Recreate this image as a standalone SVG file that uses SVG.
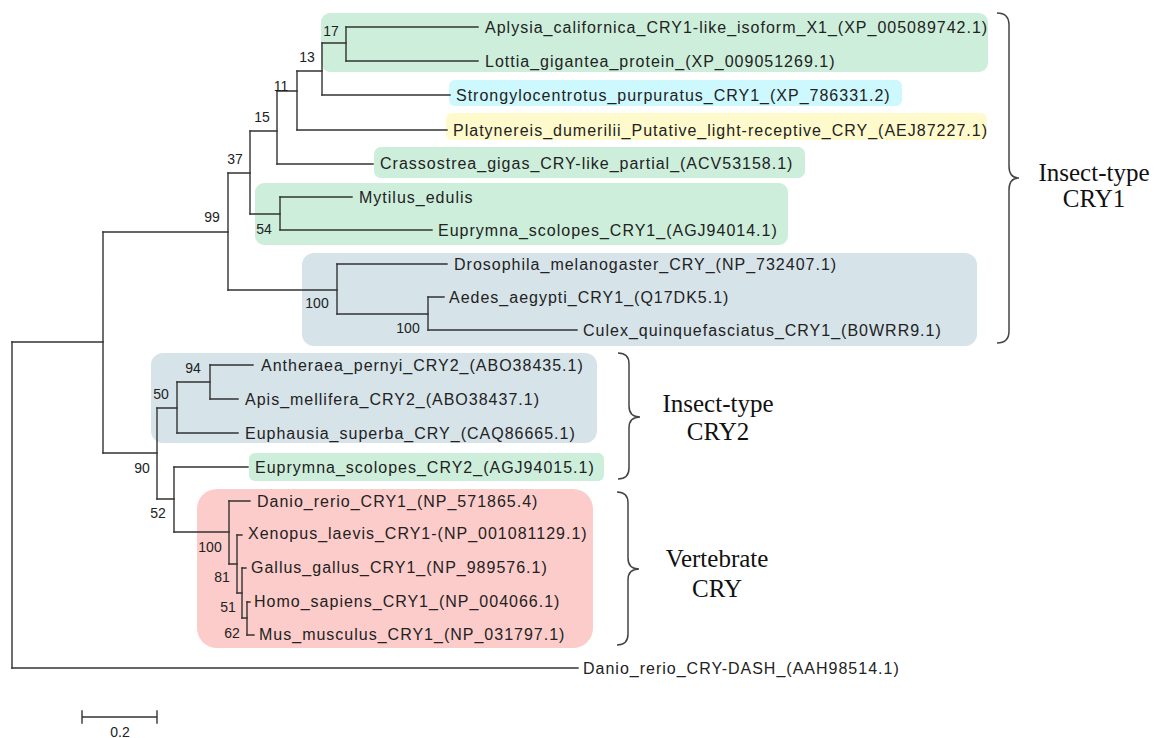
<svg xmlns="http://www.w3.org/2000/svg" width="1167" height="738" viewBox="0 0 1167 738">
<style>
.leaf{font-family:"Liberation Sans",Arial,sans-serif;font-size:16px;letter-spacing:1px;fill:#222}
.bs{font-family:"Liberation Sans",Arial,sans-serif;font-size:14px;fill:#222;text-anchor:middle}
.grp{font-family:"Liberation Serif","Times New Roman",serif;font-size:25px;fill:#111;text-anchor:middle}
.br{fill:none;stroke:#444;stroke-width:1.5}
.tree{fill:none;stroke:#333;stroke-width:1.4;stroke-linecap:square}
.g{fill:#cdeedb}
.b{fill:#d6e3e9}
</style>
<rect width="1167" height="738" fill="#fff"/>
<g id="boxes">
<rect class="g" x="321" y="13" width="667" height="59" rx="9"/>
<rect x="449" y="80" width="453" height="26" rx="6" fill="#cdf8fd"/>
<rect x="446" y="113" width="541" height="27" rx="6" fill="#fffacc"/>
<rect class="g" x="374" y="147" width="431" height="31" rx="7"/>
<rect class="g" x="255" y="183" width="533" height="62" rx="9"/>
<rect class="b" x="302" y="253" width="675" height="93" rx="12"/>
<rect class="b" x="151" y="353" width="446" height="90" rx="12"/>
<rect class="g" x="249" y="453" width="355" height="28" rx="6"/>
<rect x="197" y="489" width="396" height="159" rx="20" fill="#fcccca"/>
</g>
<g id="connectors" class="tree">
<path d="M12,342V668M103,232V453M228,173V290M250,131V214M277,91V164M297,71V130M322,43V95M346,27V61M280,197V230M337,264V314M428,297V330M157,408V499M177,382V433M210,365V399M174,467V532M229,501V564M237,535V593M242,568V618M247,602V635"/>
<path d="M12,668H578M12,342H103M103,232H228M103,453H157M228,173H250M228,290H337M250,131H277M250,214H280M277,91H297M277,164H373M297,71H322M297,130H447M322,43H346M322,95H450M346,27H478M346,61H478M280,197H352M280,230H432M337,264H447M337,314H428M428,297H444M428,330H577"/>
<path d="M157,408H177M157,499H174M177,382H210M177,433H238M210,365H253M210,399H238M174,467H248M174,532H229M229,501H250M229,564H237M237,535H242M237,593H242M242,568H246M242,618H247M247,602H250M247,635H254"/>
</g>
<g id="leaf-aplysia"><text class="leaf" x="485" y="33">Aplysia_californica_CRY1-like_isoform_X1_(XP_005089742.1)</text></g>
<g id="leaf-lottia"><text class="leaf" x="485" y="67">Lottia_gigantea_protein_(XP_009051269.1)</text></g>
<g id="leaf-strongylocentrotus"><text class="leaf" x="456" y="101">Strongylocentrotus_purpuratus_CRY1_(XP_786331.2)</text></g>
<g id="leaf-platynereis"><text class="leaf" x="453" y="136">Platynereis_dumerilii_Putative_light-receptive_CRY_(AEJ87227.1)</text></g>
<g id="leaf-crassostrea"><text class="leaf" x="380" y="169">Crassostrea_gigas_CRY-like_partial_(ACV53158.1)</text></g>
<g id="leaf-mytilus"><text class="leaf" x="359" y="203">Mytilus_edulis</text></g>
<g id="leaf-euprymna1"><text class="leaf" x="438" y="236">Euprymna_scolopes_CRY1_(AGJ94014.1)</text></g>
<g id="leaf-drosophila"><text class="leaf" x="454" y="270">Drosophila_melanogaster_CRY_(NP_732407.1)</text></g>
<g id="leaf-aedes"><text class="leaf" x="449" y="303">Aedes_aegypti_CRY1_(Q17DK5.1)</text></g>
<g id="leaf-culex"><text class="leaf" x="583" y="336">Culex_quinquefasciatus_CRY1_(B0WRR9.1)</text></g>
<g id="leaf-antheraea"><text class="leaf" x="261" y="371">Antheraea_pernyi_CRY2_(ABO38435.1)</text></g>
<g id="leaf-apis"><text class="leaf" x="245" y="405">Apis_mellifera_CRY2_(ABO38437.1)</text></g>
<g id="leaf-euphausia"><text class="leaf" x="245" y="439">Euphausia_superba_CRY_(CAQ86665.1)</text></g>
<g id="leaf-euprymna2"><text class="leaf" x="255" y="473">Euprymna_scolopes_CRY2_(AGJ94015.1)</text></g>
<g id="leaf-danio1"><text class="leaf" x="257" y="507">Danio_rerio_CRY1_(NP_571865.4)</text></g>
<g id="leaf-xenopus"><text class="leaf" x="248" y="539">Xenopus_laevis_CRY1-(NP_001081129.1)</text></g>
<g id="leaf-gallus"><text class="leaf" x="251" y="573">Gallus_gallus_CRY1_(NP_989576.1)</text></g>
<g id="leaf-homo"><text class="leaf" x="254" y="607">Homo_sapiens_CRY1_(NP_004066.1)</text></g>
<g id="leaf-mus"><text class="leaf" x="259" y="640">Mus_musculus_CRY1_(NP_031797.1)</text></g>
<g id="leaf-danio-dash"><text class="leaf" x="583" y="674">Danio_rerio_CRY-DASH_(AAH98514.1)</text></g>
<g id="bootstrap">
<text class="bs" x="331" y="36">17</text>
<text class="bs" x="307" y="62">13</text>
<text class="bs" x="281" y="91">11</text>
<text class="bs" x="262" y="122">15</text>
<text class="bs" x="235" y="164">37</text>
<text class="bs" x="212" y="222">99</text>
<text class="bs" x="264" y="234">54</text>
<text class="bs" x="317" y="308">100</text>
<text class="bs" x="408" y="333">100</text>
<text class="bs" x="193" y="373">94</text>
<text class="bs" x="161" y="399">50</text>
<text class="bs" x="142" y="473">90</text>
<text class="bs" x="158" y="518">52</text>
<text class="bs" x="210" y="552">100</text>
<text class="bs" x="222" y="582">81</text>
<text class="bs" x="228" y="612">51</text>
<text class="bs" x="232" y="638">62</text>
</g>
<g id="group-cry1">
<path class="br" d="M997,13Q1009,13 1009,25V166Q1009,178 1019,178Q1009,178 1009,190V331Q1009,343 997,343"/>
<text class="grp" x="1094" y="181">Insect-type</text>
<text class="grp" x="1094" y="207">CRY1</text>
</g>
<g id="group-cry2">
<path class="br" d="M618,353Q629,353 629,364V406Q629,417 640,417Q629,417 629,428V468Q629,479 618,479"/>
<text class="grp" x="718" y="412">Insect-type</text>
<text class="grp" x="718" y="440">CRY2</text>
</g>
<g id="group-vert">
<path class="br" d="M617,492Q628,492 628,503V558Q628,569 639,569Q628,569 628,580V634Q628,645 617,645"/>
<text class="grp" x="717" y="567">Vertebrate</text>
<text class="grp" x="717" y="597">CRY</text>
</g>
<g id="scale">
<path class="tree" d="M82,717H157M82,711V723M157,711V723"/>
<text class="bs" x="120" y="737">0.2</text>
</g>
</svg>
